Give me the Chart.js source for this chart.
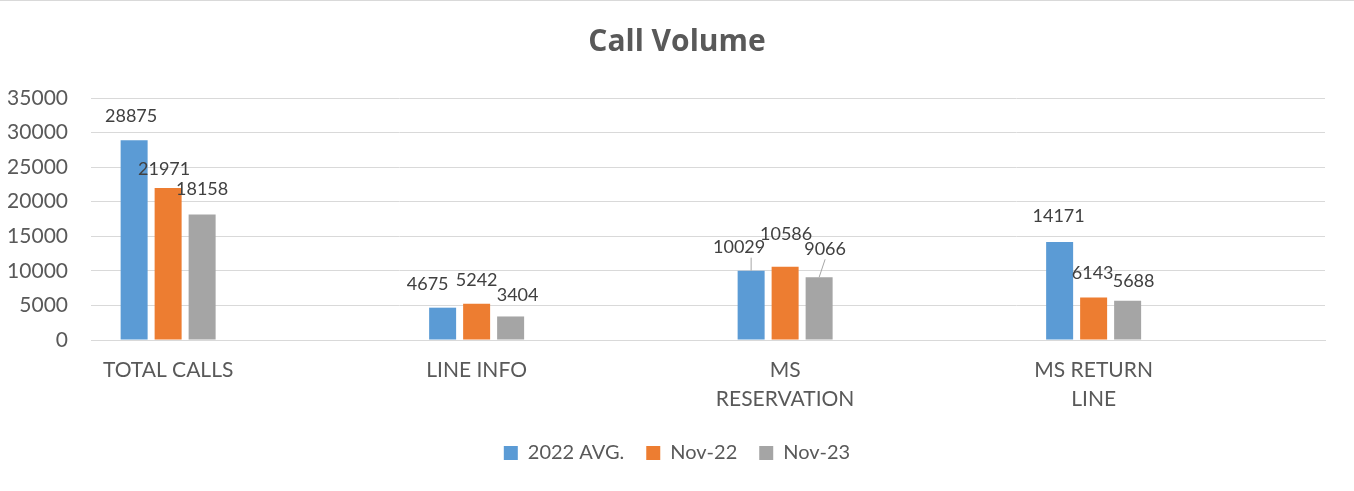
<!DOCTYPE html>
<html>
<head>
<meta charset="utf-8">
<title>Call Volume</title>
<script src="https://cdn.jsdelivr.net/npm/chart.js@4.4.0/dist/chart.umd.min.js"></script>
<style>
  html, body { margin: 0; padding: 0; background: #fff; }
  #wrap { position: relative; width: 1354px; height: 491px; }
  #topline { position: absolute; left: 0; top: 0; width: 1354px; height: 1px; background: #d9d9d9; }
</style>
</head>
<body>
<div id="wrap">
  <canvas id="chart" width="1354" height="491"></canvas>
  <div id="topline"></div>
</div>
<script>
// categories (multi-line labels as arrays)
var categories = ["TOTAL CALLS", "LINE INFO", ["MS", "RESERVATION"], ["MS RETURN", "LINE"]];

// series
var seriesNames = ["2022 AVG.", "Nov-22", "Nov-23"];
var avg2022 = [28875, 4675, 10029, 14171];
var nov22 = [21971, 5242, 10586, 6143];
var nov23 = [18158, 3404, 9066, 5688];

// y axis ticks
var yMin = 0;
var yMax = 35000;
var yStep = 5000;

var colors = ["#5B9BD5", "#ED7D31", "#A5A5A5"];

// label nudges (dx, dy) from the default spot above each bar, like excel's hand-moved labels
var labelShift = [
  [[-3, 0], [-15, 1], [-12, 1], [-1, -2]],
  [[-4, 5], [0, 0], [1, -9], [-1, 0]],
  [[0, -1], [7, 3], [6, -4], [6, 5]]
];
// labels that got a leader line
var leaderLines = [[0, 2], [2, 2]];

function toPoints(values) {
  return values.map(function (v, i) { return { x: i, y: v }; });
}

var FONT = "Lato, 'Open Sans', sans-serif";
var TEXT = "#595959";
var GRID = "#D9D9D9";

// 数字ラベルを棒の上に描く
var valueLabels = {
  id: "valueLabels",
  afterDatasetsDraw: function (chart) {
    var ctx = chart.ctx;
    ctx.save();
    ctx.font = "18px " + FONT;
    ctx.fillStyle = "#404040";
    ctx.textAlign = "center";
    ctx.textBaseline = "middle";
    chart.data.datasets.forEach(function (ds, di) {
      var meta = chart.getDatasetMeta(di);
      meta.data.forEach(function (bar, i) {
        var s = labelShift[di][i];
        var lx = bar.x + s[0];
        var ly = bar.y - 24 + s[1];
        ctx.fillText(String(ds.data[i].y), lx, ly);
        var hasLeader = leaderLines.some(function (p) { return p[0] === di && p[1] === i; });
        if (hasLeader) {
          ctx.beginPath();
          ctx.strokeStyle = "#A6A6A6";
          ctx.lineWidth = 1;
          ctx.moveTo(bar.x + Math.max(s[0], 0), ly + 10);
          ctx.lineTo(bar.x, bar.y);
          ctx.stroke();
        }
      });
    });
    ctx.restore();
  }
};

var ctx1 = document.getElementById("chart");
var myChart = new Chart(ctx1, {
  type: "bar",
  data: {
    datasets: [
      { label: seriesNames[0], data: toPoints(avg2022), backgroundColor: colors[0] },
      { label: seriesNames[1], data: toPoints(nov22), backgroundColor: colors[1] },
      { label: seriesNames[2], data: toPoints(nov23), backgroundColor: colors[2] }
    ]
  },
  options: {
    responsive: false,
    animation: false,
    barPercentage: 0.794,
    categoryPercentage: 0.3306,
    layout: {
      padding: { left: 0, right: 0, top: 0, bottom: 18 }
    },
    plugins: {
      title: {
        display: true,
        text: "Call Volume",
        color: TEXT,
        font: { family: "'Open Sans', Lato, sans-serif", size: 30, weight: "bold" },
        padding: { top: 24, bottom: 38 }
      },
      legend: {
        position: "bottom",
        labels: {
          color: TEXT,
          font: { family: FONT, size: 20 },
          boxWidth: 14,
          boxHeight: 14,
          padding: 22
        }
      },
      tooltip: { enabled: false }
    },
    scales: {
      x: {
        type: "linear",
        min: -0.25,
        max: categories.length - 0.25,
        offset: false,
        grid: { display: false, drawTicks: false },
        border: { display: true, color: GRID },
        afterBuildTicks: function (scale) {
          scale.ticks = categories.map(function (c, i) { return { value: i }; });
        },
        ticks: {
          autoSkip: false,
          maxRotation: 0,
          padding: 16,
          color: TEXT,
          font: { family: FONT, size: 21, lineHeight: 1.38 },
          callback: function (value) {
            return categories[value];
          }
        },
        afterFit: function (scale) {
          scale.height = 81;
        }
      },
      y: {
        min: yMin,
        max: yMax,
        grid: { color: GRID, drawTicks: false },
        border: { display: false },
        ticks: {
          stepSize: yStep,
          padding: 23,
          color: TEXT,
          font: { family: FONT, size: 21 },
          callback: function (value) {
            return String(value);
          }
        },
        afterFit: function (scale) {
          scale.width = 91;
        }
      },
      // 右側の余白用（何も描かない）
      yRight: {
        position: "right",
        grid: { display: false, drawTicks: false },
        border: { display: false },
        ticks: { display: false },
        afterFit: function (scale) {
          scale.width = 29;
        }
      }
    }
  },
  plugins: [valueLabels]
});
</script>
</body>
</html>
